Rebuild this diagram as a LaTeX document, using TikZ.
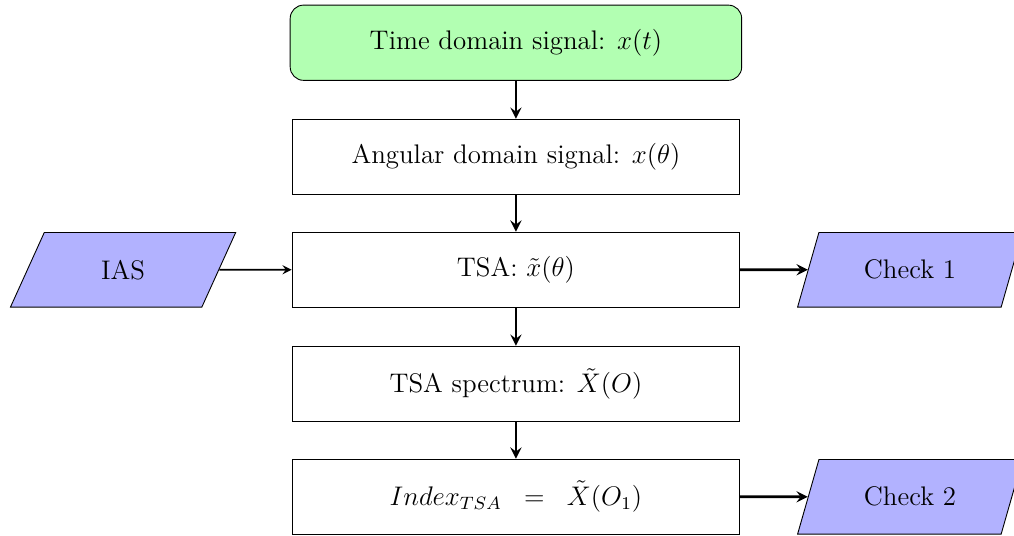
\documentclass[tikz,border=0pt]{standalone}
\usetikzlibrary{shapes.geometric}
\begin{document}
\begin{tikzpicture}[every node/.style={font=\large}, >=stealth,
  procbox/.style={draw, minimum width=7.02cm, minimum height=1.18cm},
  startbox/.style={draw, fill=green!30, rounded corners=6pt, minimum width=7.08cm, minimum height=1.18cm},
  iobox/.style={draw, fill=blue!30, trapezium, trapezium left angle=70, trapezium right angle=110, trapezium stretches=true, minimum width=3.54cm, minimum height=1.17cm}]
\useasboundingbox (0,0) rectangle (15.9,-8.4);
\node[startbox] (time) at (8.09,-0.67) {Time domain signal: $x(t)$};
\node[procbox] (ang) at (8.09,-2.46) {Angular domain signal: $x(\theta)$};
\node[procbox] (tsa) at (8.09,-4.23) {TSA: $\tilde{x}(\theta)$};
\node[procbox] (spec) at (8.09,-6.02) {TSA spectrum: $\tilde{X}(O)$};
\node[procbox] (index) at (8.09,-7.79) {$Index_{TSA} \;\;=\;\; \tilde{X}(O_1)$};
\node[iobox] (ias) at (1.93,-4.23) {IAS};
\node[iobox] (check1) at (14.27,-4.23) {Check 1};
\node[iobox] (check2) at (14.27,-7.79) {Check 2};
\draw[->, very thick] (time) -- (ang);
\draw[->, very thick] (ang) -- (tsa);
\draw[->, very thick] (tsa) -- (spec);
\draw[->, very thick] (spec) -- (index);
\draw[->, thick] (ias) -- (tsa);
\draw[->, very thick] (tsa) -- (check1);
\draw[->, very thick] (index) -- (check2);
\end{tikzpicture}
\end{document}
